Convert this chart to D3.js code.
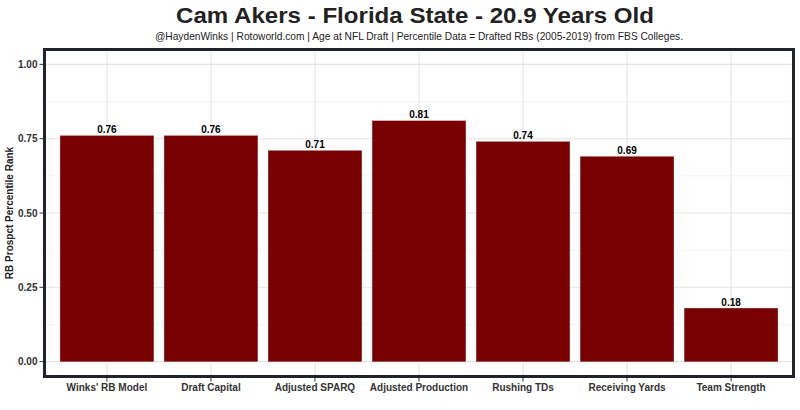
<!DOCTYPE html>
<html><head><meta charset="utf-8">
<script src="https://cdn.jsdelivr.net/npm/d3@7"></script>
<style>body{margin:0;background:#fff}svg{display:block}text{font-family:"Liberation Sans",Arial,sans-serif}</style>
</head><body><svg id="c" width="800" height="410"></svg>
<script>
const categories = ["Winks' RB Model","Draft Capital","Adjusted SPARQ","Adjusted Production","Rushing TDs","Receiving Yards","Team Strength"];
const values = [0.76,0.76,0.71,0.81,0.74,0.69,0.18];
const yTicks = [0,0.25,0.5,0.75,1.0];
const yMinor = [0.125,0.375,0.625,0.875];
const titleText = "Cam Akers - Florida State - 20.9 Years Old";
const subtitleText = "@HaydenWinks | Rotoworld.com | Age at NFL Draft | Percentile Data = Drafted RBs (2005-2019) from FBS Colleges.";
const yTitle = "RB Prospct Percentile Rank";

const svg = d3.select("#c");
const L = 44.5, R = 793.5, T = 49.5, B = 376.5;
const step = (R - L) / 7.2;
const x = d3.scaleBand().domain(categories).range([L + 0.6*step - 0.5*step, R - 0.6*step + 0.5*step]).paddingInner(0.1).paddingOuter(0.05);
const xc = c => x(c) + x.bandwidth()/2;
const bw = x.bandwidth();
const y = d3.scaleLinear().domain([-0.05, 1.05]).range([B, T]);

// grid
const g = svg.append("g");
yMinor.forEach(v => g.append("line").attr("x1",L).attr("x2",R).attr("y1",y(v)).attr("y2",y(v)).attr("stroke","#ededed").attr("stroke-width",0.6));
yTicks.forEach(v => g.append("line").attr("x1",L).attr("x2",R).attr("y1",y(v)).attr("y2",y(v)).attr("stroke","#e5e5e5").attr("stroke-width",1.1));
categories.forEach(c => g.append("line").attr("x1",xc(c)).attr("x2",xc(c)).attr("y1",T).attr("y2",B).attr("stroke","#e5e5e5").attr("stroke-width",1.1));

// bars
svg.selectAll("rect.bar").data(values).enter().append("rect").attr("class","bar")
  .attr("x",(d,i)=>x(categories[i])).attr("width",bw)
  .attr("y",d=>y(d)).attr("height",d=>y(0)-y(d))
  .attr("fill","#780000").attr("stroke","#a05050").attr("stroke-width",0.3);

// bar labels
svg.selectAll("text.lab").data(values).enter().append("text").attr("class","lab")
  .attr("x",(d,i)=>xc(categories[i])).attr("y",d=>y(d)-2.5).attr("text-anchor","middle")
  .attr("font-size",10).attr("font-weight","bold").attr("fill","#000")
  .text(d=>d.toFixed(2));

// border
svg.append("rect").attr("x",L).attr("y",T).attr("width",R-L).attr("height",B-T)
  .attr("fill","none").attr("stroke","#1f232b").attr("stroke-width",3);

// y axis ticks and labels
yTicks.forEach(v => {
  svg.append("line").attr("x1",L-5).attr("x2",L-1.5).attr("y1",y(v)).attr("y2",y(v)).attr("stroke","#333").attr("stroke-width",1);
  svg.append("text").attr("x",L-7).attr("y",y(v)+3.5).attr("text-anchor","end").attr("font-size",10).attr("font-weight","bold").attr("fill","#333").text(v.toFixed(2));
});
// x axis ticks and labels
categories.forEach(c => {
  svg.append("line").attr("x1",xc(c)).attr("x2",xc(c)).attr("y1",B+1.5).attr("y2",B+5).attr("stroke","#333").attr("stroke-width",1);
  svg.append("text").attr("x",xc(c)).attr("y",391).attr("text-anchor","middle").attr("font-size",10).attr("font-weight","bold").attr("fill","#333").text(c);
});

// y title
svg.append("text").attr("transform",`translate(13,${(T+B)/2}) rotate(-90)`).attr("text-anchor","middle")
  .attr("font-size",10).attr("font-weight","bold").attr("fill","#222").text(yTitle);

// titles
svg.append("text").attr("x",415).attr("y",23).attr("text-anchor","middle").attr("font-size",22).attr("font-weight","bold")
  .attr("fill","#222").attr("textLength",478).attr("lengthAdjust","spacingAndGlyphs").text(titleText);
svg.append("text").attr("x",419).attr("y",40).attr("text-anchor","middle").attr("font-size",10.5)
  .attr("fill","#222").attr("textLength",528).attr("lengthAdjust","spacingAndGlyphs").text(subtitleText);
</script></body></html>
